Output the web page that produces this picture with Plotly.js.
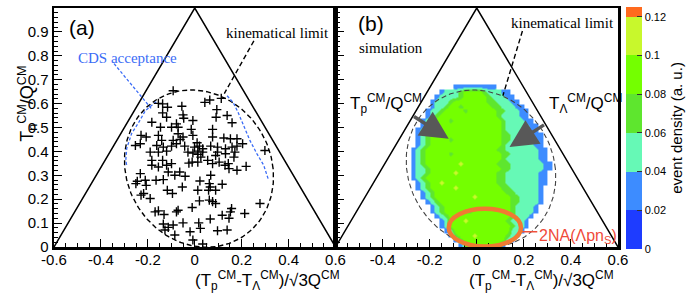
<!DOCTYPE html>
<html><head><meta charset="utf-8">
<script src="https://cdn.plot.ly/plotly-3.0.1.min.js"></script>
<style>html,body{margin:0;padding:0;background:#fff}#plot{width:692px;height:295px}</style>
</head><body><div id="plot"></div>
<script>
// ---------- panel (a): measured events ----------
const eventsX = [-0.092,0.064,0.043,0.113,-0.155,-0.137,-0.116,-0.055,-0.137,-0.120,-0.050,-0.047,0.094,0.091,0.138,-0.183,-0.078,-0.008,0.076,0.159,-0.146,-0.099,-0.071,-0.071,-0.050,-0.015,-0.008,-0.229,-0.207,-0.253,-0.232,-0.155,-0.141,-0.134,-0.162,-0.092,-0.078,-0.099,-0.062,-0.043,0.010,0.020,-0.001,0.034,0.068,0.076,0.124,0.152,0.180,0.180,0.159,0.204,0.097,0.131,0.299,
-0.190,-0.155,-0.120,-0.029,-0.008,0.013,0.034,0.097,0.131,0.171,
0.013,0.089,0.167,-0.183,-0.183,-0.137,-0.120,-0.155,-0.099,-0.025,-0.011,0.013,0.026,0.055,0.076,0.104,0.129,0.143,0.146,0.180,0.219,
-0.232,-0.113,-0.085,-0.064,-0.041,0.068,
-0.251,-0.245,-0.211,-0.207,-0.165,-0.134,0.022,0.062,0.066,0.117,-0.053,
-0.218,-0.229,-0.190,-0.117,-0.095,0.013,0.059,0.089,
0.020,0.062,0.089,0.076,-0.011,-0.071,-0.078,-0.169,-0.155,-0.131,
0.157,0.152,0.117,0.146,0.213,0.278,
0.066,0.017,0.024,-0.050,-0.092,-0.113,-0.134,-0.127,-0.085,-0.020,-0.008,0.034,0.097,0.138];
const eventsY = [0.654,0.615,0.605,0.622,0.601,0.599,0.585,0.589,0.561,0.543,0.553,0.539,0.575,0.543,0.550,0.522,0.515,0.529,0.492,0.520,0.501,0.501,0.501,0.474,0.460,0.492,0.467,0.467,0.460,0.425,0.432,0.467,0.446,0.418,0.425,0.446,0.432,0.422,0.450,0.422,0.436,0.422,0.418,0.411,0.422,0.460,0.456,0.453,0.453,0.422,0.418,0.432,0.418,0.411,0.404,
0.397,0.397,0.401,0.397,0.393,0.401,0.397,0.397,0.390,0.397,
0.3875,0.383,0.376,0.3625,0.342,0.3625,0.342,0.335,0.349,0.351,0.355,0.355,0.376,0.3625,0.349,0.355,0.342,0.349,0.328,0.321,0.3375,
0.307,0.314,0.300,0.314,0.296,0.300,
0.265,0.275,0.279,0.258,0.279,0.282,0.276,0.265,0.251,0.2625,0.251,
0.224,0.217,0.203,0.2375,0.224,0.2375,0.2375,0.2375,
0.193,0.196,0.182,0.190,0.165,0.154,0.147,0.147,0.151,0.136,
0.161,0.147,0.133,0.120,0.140,0.182,
0.117,0.101,0.078,0.101,0.092,0.082,0.096,0.071,0.050,0.064,0.029,0.0125,0.068,0.071];

// CDS acceptance curves (panel a)
const cdsLeftX  = [-0.164,-0.210,-0.239,-0.269,-0.290,-0.294,-0.290];
const cdsLeftY  = [0.608,0.571,0.521,0.475,0.4125,0.3625,0.342];
const cdsRightX = [0.138,0.164,0.185,0.210,0.235,0.264,0.294,0.315];
const cdsRightY = [0.633,0.604,0.5625,0.508,0.446,0.392,0.342,0.279];
const cdsLeaderX = [-0.344,-0.185];
const cdsLeaderY = [0.767,0.579];
const kinLeaderAX = [0.252,0.126];
const kinLeaderAY = [0.8625,0.642];
const kinLeaderBX = [0.194,0.111];
const kinLeaderBY = [0.904,0.633];

// Dalitz triangle
const triX = [-0.6,0,0.6];
const triY = [0,1,0];

// kinematical limit (ellipse parameters)
const kinCenter = [0.018,0.328];
const kinRadii  = [0.316,0.329];
const kinShear  = 0.1;

// ---------- panel (b): simulated event density ----------
const densX = [-0.31,-0.29,-0.27,-0.25,-0.23,-0.21,-0.19,-0.17,-0.15,-0.13,-0.11,-0.09,-0.07,-0.05,-0.03,-0.01,0.01,0.03,0.05,0.07,0.09,0.11,0.13,0.15,0.17,0.19,0.21,0.23,0.25,0.27,0.29,0.31,0.33,0.35];
const densY = [0.67,0.65,0.63,0.61,0.59,0.57,0.55,0.53,0.51,0.49,0.47,0.45,0.43,0.41,0.39,0.37,0.35,0.33,0.31,0.29,0.27,0.25,0.23,0.21,0.19,0.17,0.15,0.13,0.11,0.09,0.07,0.05,0.03,0.01];
// one character per cell: density band
const densRows = [
"...........222222222",
"........233345555433322",
".......23333455555433322",
"......2333455555554433322",
"......23345545555554433322",
".....2334555545555554433322",
".....2345555555555554333322",
"....234555455555555554333322",
"....2345555555555555543333322",
"...23455555555555555543333322",
"...234555555555555555443333322",
"...234555545555555555443333322",
"...234555555555555555433333322",
"..23455555555555555544333333322",
"..23455555455555555554433333322",
"..23455555555555555554333333322",
"..234555555565555555444333333322",
"..233455555555555555544333333322",
"..23345555565555555544333333322",
"..23455555555555555544333333322",
"...2345565555555555544333333322",
"...234555556555555555443333332",
"....23455555555555555544333332",
"....23455555555655555554433332",
".....2345555555555555554433332",
"......23455555555555555433332",
"......23455555455555555433332",
".......234555555555555543332",
"........2355565555555543332",
"........2355555555555554332",
".........23555555555555332",
"..........245556555555432",
"...........2455555555532",
"............2455555552"
];
const bandValue = {"1":0.01,"2":0.03,"3":0.05,"4":0.07,"5":0.09,"6":0.11};
const cbTicks = [0,0.02,0.04,0.06,0.08,0.10,0.12];
const cbLabels = ["0","0.02","0.04","0.06","0.08","0.1","0.12"];

const arrowP = {tail:[-0.273,0.55], tip:[-0.119,0.453]};
const arrowL = {tail:[0.292,0.515], tip:[0.139,0.418]};
const nsEllipse = {x0:-0.119,x1:0.188,y0:0.002,y1:0.16};
const nsLeaderX = [0.187,0.257];
const nsLeaderY = [0.064,0.064];

const xTickVals = [-0.6,-0.4,-0.2,0,0.2,0.4,0.6];
const xTickText = ["-0.6","-0.4","-0.2","0","0.2","0.4","0.6"];
const xTickVals2 = [-0.4,-0.2,0,0.2,0.4,0.6];
const xTickText2 = ["-0.4","-0.2","0","0.2","0.4","0.6"];
const yTickVals = [0,0.1,0.2,0.3,0.4,0.5,0.6,0.7,0.8,0.9,1.0];
const yTickText = ["0","0.1","0.2","0.3","0.4","0.5","0.6","0.7","0.8","0.9","1.0"];

// ---------- build ----------
const z = densRows.map(r => r.padEnd(densX.length,'.').split('').map(c => (c in bandValue) ? bandValue[c] : null));

const ell = {x:[],y:[]};
for (let k=0;k<=180;k++){
  const t = 2*Math.PI*k/180;
  ell.x.push(kinCenter[0] + kinRadii[0]*Math.cos(t) - kinShear*kinRadii[1]*Math.sin(t));
  ell.y.push(kinCenter[1] + kinRadii[1]*Math.sin(t));
}

const SANS = "Liberation Sans, Arial, sans-serif";
const SERIF = "Liberation Serif, Times New Roman, serif";
const blue = "#3b6cf6";

const cs = [[0,'#1e3cff'],[0.16,'#1e3cff'],[0.16,'#3d8cff'],[0.32,'#3d8cff'],[0.32,'#66f9b6'],[0.48,'#66f9b6'],
            [0.48,'#5ee62e'],[0.64,'#5ee62e'],[0.64,'#74ff00'],[0.8,'#74ff00'],[0.8,'#c8f82c'],[0.96,'#c8f82c'],[0.96,'#ff6a1e'],[1,'#ff6a1e']];

const line = (x,y,ax,color,width,dash) => ({type:'scatter',mode:'lines',x,y,xaxis:'x'+(ax===1?'':ax),yaxis:'y'+(ax===1?'':ax),
  line:{color,width,dash:dash||'solid'},hoverinfo:'skip',showlegend:false});

const traces = [
  {type:'heatmap',x:densX,y:densY,z,xaxis:'x2',yaxis:'y2',zmin:0,zmax:0.125,zsmooth:'best',colorscale:cs,hoverinfo:'skip',
   colorbar:{x:(635-54)/573,xanchor:'left',xpad:0,y:-0.0083,yanchor:'bottom',ypad:0,len:1.0125,lenmode:'fraction',thickness:16,
     outlinewidth:0,tickvals:cbTicks,ticktext:cbLabels,ticks:'inside',ticklen:5,tickcolor:'#333',tickfont:{family:SANS,size:11,color:'#000'},
     title:{text:'event density (a. u.)',side:'right',font:{family:SANS,size:15,color:'#000'}}}},
  line(triX,triY,1,'#000',1.5),
  line(triX,triY,2,'#000',1.5),
  line(ell.x,ell.y,1,'#000',1.4,'5px,3px'),
  line(ell.x,ell.y,2,'#444',1.1,'5px,3px'),
  line(cdsLeftX,cdsLeftY,1,blue,1.3,'3px,2px'),
  line(cdsRightX,cdsRightY,1,blue,1.3,'3px,2px'),
  line(cdsLeaderX,cdsLeaderY,1,blue,1.3,'3px,2px'),
  line(kinLeaderAX,kinLeaderAY,1,'#000',1.4,'5px,3px'),
  line(kinLeaderBX,kinLeaderBY,2,'#000',1.4,'5px,3px'),
  line(nsLeaderX,nsLeaderY,2,'#f0503c',1.6),
  {type:'scatter',mode:'markers',x:eventsX,y:eventsY,xaxis:'x',yaxis:'y',hoverinfo:'skip',showlegend:false,
   marker:{symbol:'cross-thin',size:6.5,color:'#000',line:{color:'#000',width:1.4}}}
];

const axBase = {showgrid:false,zeroline:false,showline:true,linecolor:'#000',linewidth:2.5,mirror:true,
  ticks:'inside',ticklen:8,tickwidth:1,tickcolor:'#000',ticklabelstandoff:-3,tickfont:{family:SANS,size:15,color:'#000'}};

const layout = {
  width:692,height:295,margin:{l:54,r:65,t:7,b:48},paper_bgcolor:'#fff',plot_bgcolor:'#fff',showlegend:false,
  xaxis:Object.assign({},axBase,{domain:[0,286/573],range:[-0.6,0.6],tickvals:xTickVals,ticktext:xTickText,anchor:'y',
    minor:{dtick:0.05,ticklen:4,ticks:'inside',tickcolor:'#000'}}),
  yaxis:Object.assign({},axBase,{domain:[0,1],range:[0,1],tickvals:yTickVals,ticktext:yTickText,anchor:'x',ticklabelstandoff:0,
    minor:{dtick:0.02,ticklen:4,ticks:'inside',tickcolor:'#000'}}),
  xaxis2:Object.assign({},axBase,{domain:[286/573,1],range:[-0.6,0.6],tickvals:xTickVals2,ticktext:xTickText2,anchor:'y2',
    minor:{dtick:0.05,ticklen:4,ticks:'inside',tickcolor:'#000'}}),
  yaxis2:Object.assign({},axBase,{domain:[0,1],range:[0,1],tickvals:yTickVals,showticklabels:false,anchor:'x2',
    minor:{dtick:0.02,ticklen:4,ticks:'inside',tickcolor:'#000'}}),
  shapes:[
    {type:'circle',xref:'x2',yref:'y2',x0:nsEllipse.x0,x1:nsEllipse.x1,y0:nsEllipse.y0,y1:nsEllipse.y1,
     line:{color:'#f07a32',width:4.5},layer:'above'}
  ],
  annotations:[
    {xref:'paper',yref:'paper',x:-0.0733,y:0.6,text:'T<sub>n</sub><sup>CM</sup>/Q<sup>CM</sup>',textangle:-90,showarrow:false,
     font:{family:SANS,size:18,color:'#000'}},
    {xref:'paper',yref:'paper',x:(347-54)/573,y:-0.14,xanchor:'right',yanchor:'middle',showarrow:false,
     text:'(T<sub>p</sub><sup>CM</sup>-T<sub>Λ</sub><sup>CM</sup>)/√3Q<sup>CM</sup>',font:{family:SANS,size:17,color:'#000'}},
    {xref:'paper',yref:'paper',x:(625-54)/573,y:-0.14,xanchor:'right',yanchor:'middle',showarrow:false,
     text:'(T<sub>p</sub><sup>CM</sup>-T<sub>Λ</sub><sup>CM</sup>)/√3Q<sup>CM</sup>',font:{family:SANS,size:17,color:'#000'}},
    {xref:'x',yref:'y',x:-0.48,y:0.917,text:'(a)',showarrow:false,font:{family:SANS,size:21,color:'#000'}},
    {xref:'x2',yref:'y2',x:-0.45,y:0.937,text:'(b)',showarrow:false,font:{family:SANS,size:21,color:'#000'}},
    {xref:'x',yref:'y',x:0.58,y:0.895,xanchor:'right',text:'kinematical limit',showarrow:false,font:{family:SERIF,size:15,color:'#000'}},
    {xref:'x2',yref:'y2',x:0.59,y:0.937,xanchor:'right',text:'kinematical limit',showarrow:false,font:{family:SERIF,size:15,color:'#000'}},
    {xref:'x',yref:'y',x:-0.505,y:0.792,xanchor:'left',text:'CDS acceptance',showarrow:false,font:{family:SERIF,size:15,color:blue}},
    {xref:'x2',yref:'y2',x:-0.51,y:0.833,xanchor:'left',text:'simulation',showarrow:false,font:{family:SERIF,size:15,color:'#000'}},
    {xref:'x2',yref:'y2',x:-0.387,y:0.6,text:'T<sub>p</sub><sup>CM</sup>/Q<sup>CM</sup>',showarrow:false,font:{family:SANS,size:17,color:'#000'}},
    {xref:'x2',yref:'y2',x:0.462,y:0.6,text:'T<sub>Λ</sub><sup>CM</sup>/Q<sup>CM</sup>',showarrow:false,font:{family:SANS,size:17,color:'#000'}},
    {xref:'x2',yref:'y2',x:arrowP.tip[0],y:arrowP.tip[1],axref:'x2',ayref:'y2',ax:arrowP.tail[0],ay:arrowP.tail[1],text:'',
     showarrow:true,arrowhead:2,arrowsize:1.6,arrowwidth:3.5,arrowcolor:'#585858'},
    {xref:'x2',yref:'y2',x:arrowL.tip[0],y:arrowL.tip[1],axref:'x2',ayref:'y2',ax:arrowL.tail[0],ay:arrowL.tail[1],text:'',
     showarrow:true,arrowhead:2,arrowsize:1.6,arrowwidth:3.5,arrowcolor:'#585858'},
    {xref:'x2',yref:'y2',x:0.257,y:0.042,xanchor:'left',text:'2NA(Λpn<sub>S</sub>)',showarrow:false,font:{family:SANS,size:16,color:'#f04a3a'}}
  ]
};

Plotly.newPlot('plot',traces,layout,{staticPlot:true,displayModeBar:false});
</script></body></html>
